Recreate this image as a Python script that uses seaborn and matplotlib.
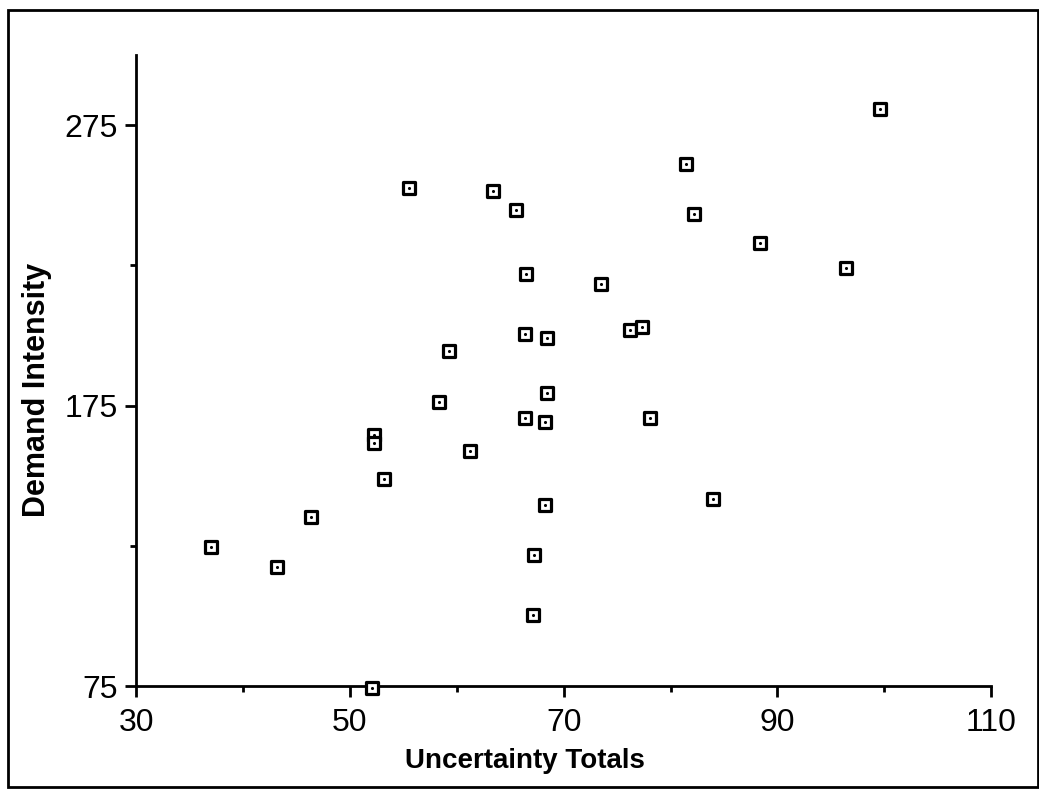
import matplotlib
matplotlib.use("Agg")
import matplotlib.pyplot as plt
import numpy as np
import pandas as pd
import seaborn as sns
from matplotlib.patches import Rectangle

# values
uncertainty_totals = [37.0, 43.2, 46.4, 52.3, 52.3, 53.2, 52.1, 55.5, 58.3, 59.3,
                      61.2, 63.4, 65.5, 66.5, 66.4, 66.4, 68.4, 68.4, 68.3, 68.3,
                      67.2, 67.1, 73.5, 76.2, 77.3, 78.1, 81.4, 82.2, 84.0, 88.4,
                      96.4, 99.6]
demand_intensity = [124.6, 117.5, 135.4, 164.6, 161.8, 148.9, 74.3, 252.5, 176.4, 194.6,
                    158.9, 251.4, 244.6, 221.8, 200.4, 170.7, 199.3, 179.6, 169.3, 139.6,
                    121.8, 100.4, 218.2, 201.8, 203.2, 170.7, 261.1, 243.2, 141.8, 232.9,
                    223.9, 280.7]
x_ticks = [30, 50, 70, 90, 110]
x_minor = [40, 60, 80, 100]
y_ticks = [75, 175, 275]
y_minor = [125, 225]

df = pd.DataFrame({"Uncertainty Totals": uncertainty_totals,
                   "Demand Intensity": demand_intensity})

sns.set_style("ticks")
plt.rcParams['font.family'] = ['Liberation Sans', 'DejaVu Sans']

fig = plt.figure(figsize=(10.39, 7.97), dpi=100)
ax = fig.add_axes([0.131, 0.139, 0.823, 0.792])

# hollow squares with a dot in the middle
sns.scatterplot(data=df, x="Uncertainty Totals", y="Demand Intensity", ax=ax,
                marker="s", s=85, facecolor="white", edgecolor="black",
                linewidth=2.3, zorder=3, clip_on=False)
sns.scatterplot(data=df, x="Uncertainty Totals", y="Demand Intensity", ax=ax,
                marker="o", s=5, color="black", linewidth=0, zorder=4, clip_on=False)

ax.set_xlim(30, 110)
ax.set_ylim(75, 300)
ax.set_xticks(x_ticks)
ax.set_xticks(x_minor, minor=True)
ax.set_yticks(y_ticks)
ax.set_yticks(y_minor, minor=True)

for side in ["top", "right"]:
    ax.spines[side].set_visible(False)
for side in ["left", "bottom"]:
    ax.spines[side].set_linewidth(2.0)
    ax.spines[side].set_color("black")

ax.tick_params(axis="both", which="major", length=8, width=2, color="black",
               labelsize=23, labelcolor="black")
ax.tick_params(axis="both", which="minor", length=4, width=2, color="black")
ax.tick_params(axis="x", which="major", pad=8)
ax.tick_params(axis="y", which="major", pad=5)

ax.set_xlabel("Uncertainty Totals", fontsize=20, fontweight="bold", color="black")
ax.set_ylabel("Demand Intensity", fontsize=22, fontweight="bold", color="black")
ax.xaxis.set_label_coords(0.455, -0.098)
ax.yaxis.set_label_coords(-0.098, 0.47)

# border around the whole page
fig.add_artist(Rectangle((0.0077, 0.0125), 0.991, 0.975, transform=fig.transFigure,
                         fill=False, edgecolor="black", linewidth=2))

fig.savefig("out.png", dpi=100)
